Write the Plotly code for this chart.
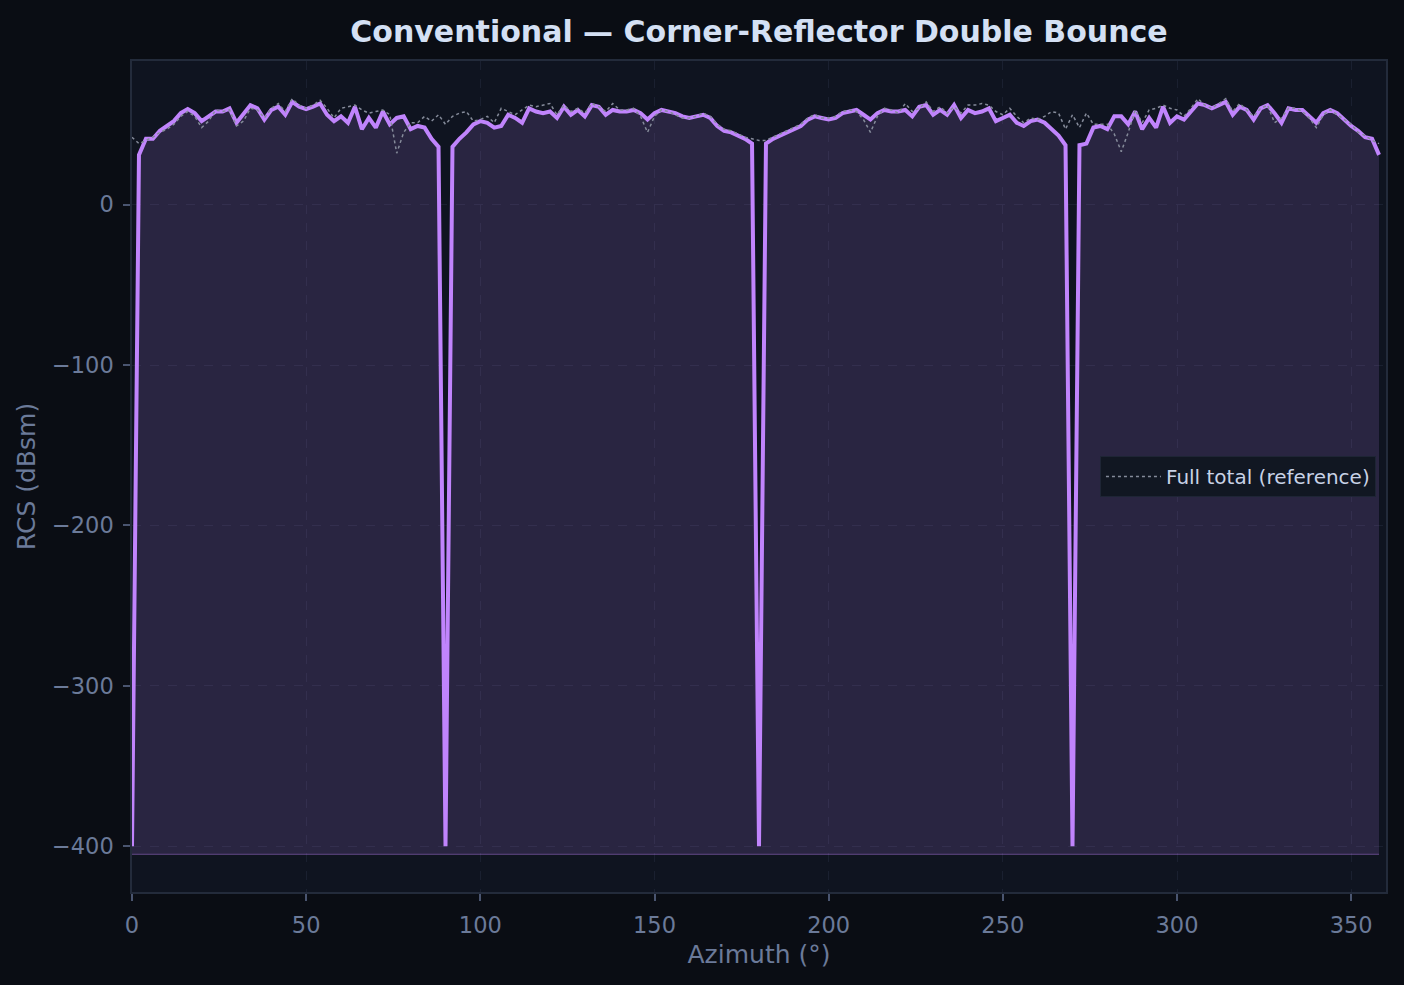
import plotly.graph_objects as go

# azimuth grid, 2 degree steps
azimuth = list(range(0, 360, 2))

# double-bounce RCS (dBsm), -400 = numerical floor
rcs_db = [
    -400, 31, 41, 41, 46, 49, 52, 57, 59.5, 57,
    52, 55, 58, 58, 60, 51, 57, 62, 60, 53,
    59, 61, 56, 64, 61, 59.5, 61, 63, 56, 52,
    55, 51, 61, 47, 54, 48, 58, 50, 54, 55,
    47, 49, 48, 41, 36, -400, 36, 41, 45, 50,
    52, 51, 48, 49, 56, 54, 51, 60, 58, 57,
    58, 54, 61, 56, 59, 55, 62, 61, 56, 59,
    58, 58, 59, 57, 53, 57, 59, 58, 57, 55,
    54, 55, 56, 54, 49, 46, 45, 43, 41, 38,
    -400, 38, 41, 43, 45, 47, 49, 53, 55, 54,
    53, 54, 57, 58, 59, 56, 53, 57, 59, 58,
    58, 59, 55, 61, 62, 56, 59, 56, 62, 54,
    59, 57, 58, 60, 52, 54, 56, 51, 49, 52,
    53, 51, 47, 43, 37, -400, 37, 38, 48, 49,
    47, 55, 55, 50, 58, 47, 54, 48, 61, 51,
    55, 53, 58, 63, 62, 60, 62, 64, 56, 61,
    59, 53, 60, 62, 57, 51, 60, 59, 59, 55,
    51, 57, 59, 57, 53, 49, 46, 42, 41, 31,
]

# full total (reference)
ref_db = [
    42, 38, 40, 42, 45, 47, 50, 55, 58, 55,
    48, 52, 59, 58, 59, 49, 52, 60, 59, 54,
    60, 63, 58, 66, 62, 60, 62, 65, 60, 54,
    60, 61, 62, 59, 57, 58, 59, 56, 32, 45,
    51, 51, 55, 52, 56, 50, 55, 57, 58, 52,
    53, 55, 51, 60, 58, 56, 59, 62, 61, 62,
    63, 56, 62, 58, 60, 57, 63, 61, 58, 63,
    59, 59, 60, 55, 45, 55, 59, 58, 56, 54,
    54, 55, 57, 55, 50, 47, 46, 44, 42, 41,
    40, 40, 42, 44, 46, 48, 50, 54, 56, 54,
    54, 55, 58, 59, 58, 53, 45, 55, 60, 59,
    57, 63, 58, 60, 64, 58, 61, 57, 61, 57,
    62, 62, 63, 62, 58, 56, 60, 55, 51, 54,
    53, 55, 58, 57, 47, 56, 48, 57, 50, 50,
    50, 44, 33, 45, 59, 51, 59, 60, 62, 60,
    59, 55, 60, 66, 62, 60, 63, 66, 58, 63,
    59, 55, 60, 62, 51, 54, 60, 60, 58, 54,
    48, 56, 59, 56, 53, 50, 45, 43, 40, 38,
]

fill_floor = -405

BG = "#0a0d14"
AX_BG = "#0f1420"
TXT = "#6b7a99"
GRID = "#1a2030"
FONT = "DejaVu Sans"

fig = go.Figure()

fig.add_trace(go.Scatter(
    x=azimuth, y=[fill_floor] * len(azimuth), mode="lines",
    line=dict(color="rgba(192,132,252,0.35)", width=1.2),
    showlegend=False, hoverinfo="skip",
))
fig.add_trace(go.Scatter(
    x=azimuth, y=rcs_db, mode="lines", name="Double bounce",
    line=dict(color="#c084fc", width=4),
    fill="tonexty", fillcolor="rgba(192,132,252,0.15)",
    showlegend=False,
))
fig.add_trace(go.Scatter(
    x=azimuth, y=ref_db, mode="lines", name="Full total (reference)",
    line=dict(color="#858b9a", width=1.5, dash="dot"),
))

axis_common = dict(
    showline=True, linecolor="#232b3b", linewidth=1.5, mirror=True,
    ticks="outside", ticklen=7, tickcolor="#4a5570", tickwidth=1.5,
    ticklabelstandoff=5,
    tickfont=dict(family=FONT, size=22.5, color=TXT),
    showgrid=True, gridcolor=GRID, griddash="dash", gridwidth=1.2,
    zeroline=False,
)

fig.update_xaxes(
    range=[0, 360], tickvals=[0, 50, 100, 150, 200, 250, 300, 350],
    title=dict(text="Azimuth (°)", font=dict(family=FONT, size=25, color=TXT), standoff=9),
    **axis_common,
)
fig.update_yaxes(
    range=[-428.5, 89.5], tickvals=[-400, -300, -200, -100, 0],
    title=dict(text="RCS (dBsm)", font=dict(family=FONT, size=25, color=TXT), standoff=9),
    **axis_common,
)

fig.update_layout(
    width=1404, height=985,
    paper_bgcolor=BG, plot_bgcolor=AX_BG,
    margin=dict(l=132, r=18, t=61, b=93),
    title=dict(
        text="<b>Conventional — Corner-Reflector Double Bounce</b>",
        x=759 / 1404, xanchor="center", y=1 - 31 / 985, yanchor="middle",
        font=dict(family=FONT, size=30, color="#d4e0f4"),
    ),
    legend=dict(
        x=0.992, xanchor="right", y=0.5, yanchor="middle",
        bgcolor="#111722", bordercolor="#1e2535", borderwidth=1,
        itemwidth=55,
        font=dict(family=FONT, size=20, color="#c8d2e6"),
    ),
    showlegend=True,
)

fig.write_html(
    "out.html",
    config={"displayModeBar": False},
    post_script="document.body.style.margin='0';document.body.style.background='#0a0d14';",
)
